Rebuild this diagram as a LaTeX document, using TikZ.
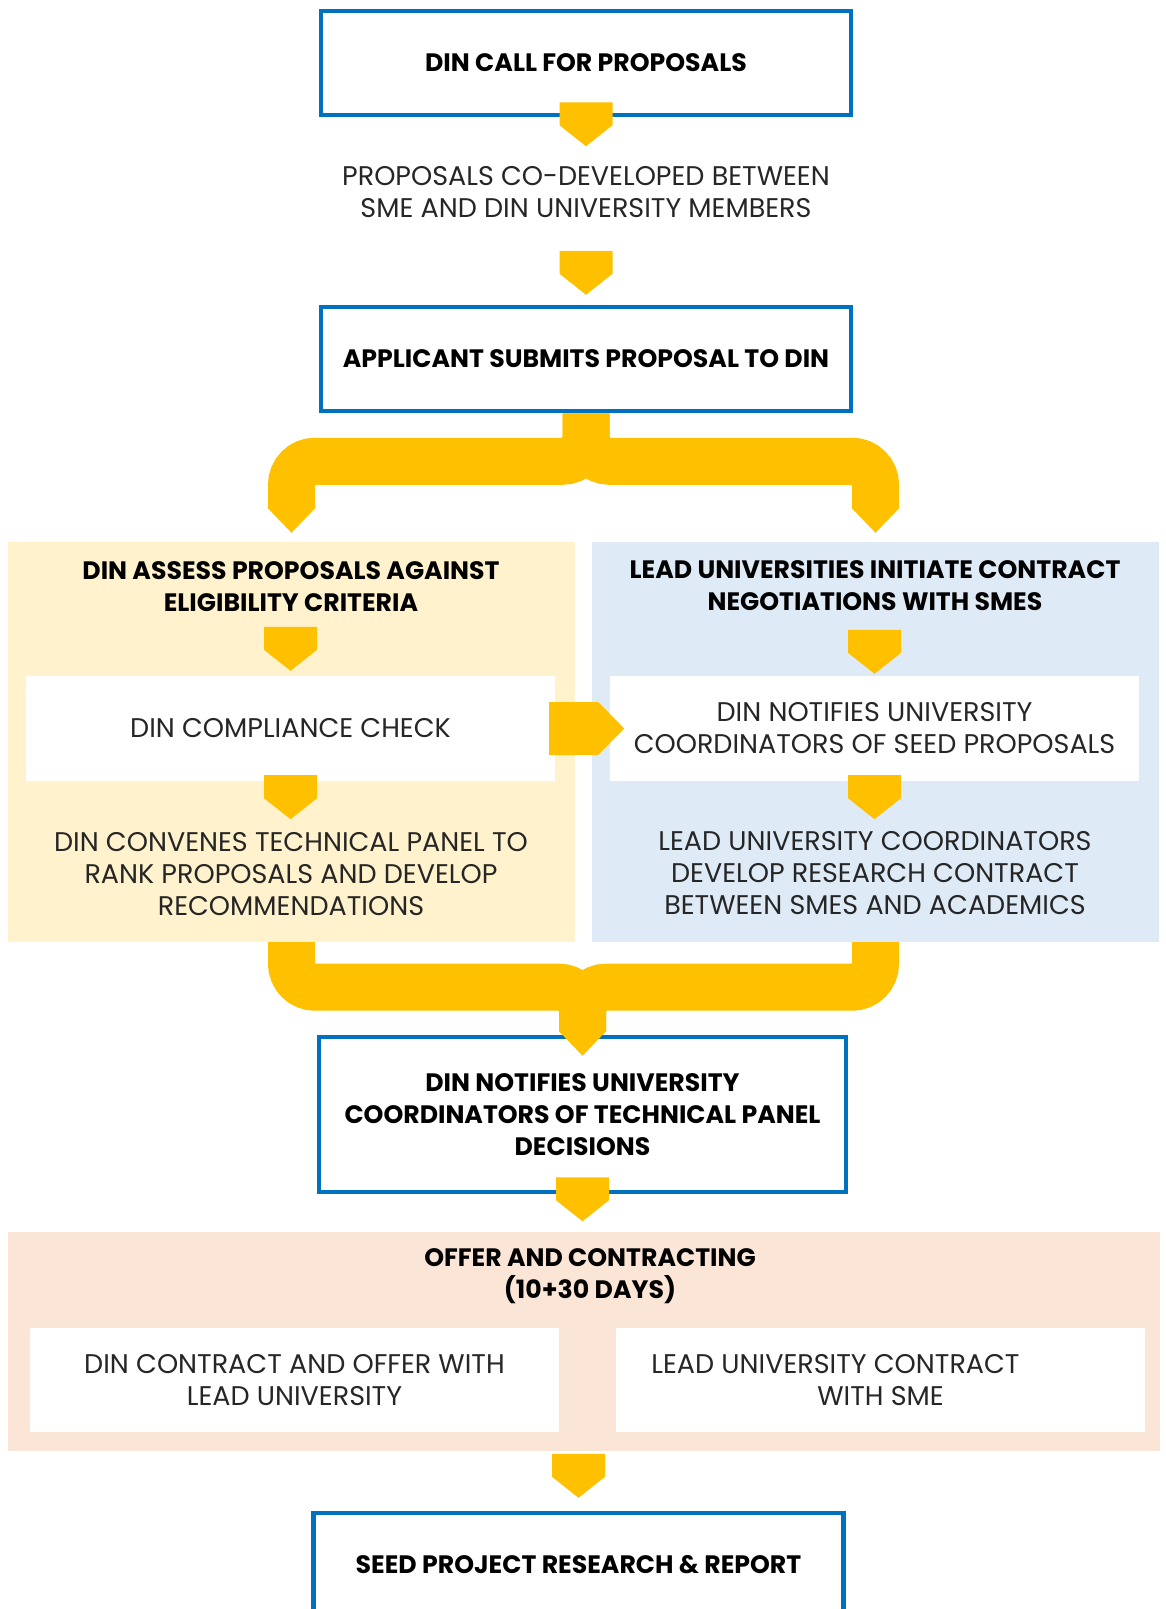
\documentclass[tikz,border=0pt]{standalone}
\usepackage{fontspec}
\setmainfont{Poppins}
\usetikzlibrary{calc}

\definecolor{dinblue}{HTML}{0070C0}
\definecolor{dingold}{HTML}{FFC000}
\definecolor{paleyellow}{HTML}{FFF2CC}
\definecolor{paleblue}{HTML}{DEEBF7}
\definecolor{palepeach}{HTML}{FBE5D6}

\newcommand{\headfont}{\fontsize{25.2}{32}\selectfont\bfseries}
\newcommand{\bodyfont}{\fontsize{27}{32}\selectfont\color{black!85}}

\begin{document}
\begin{tikzpicture}[x=1pt, y=-1pt,
    stepframe/.style={draw=dinblue, line width=4.5pt, fill=white, minimum width=530pt,
      minimum height=104pt, align=center, font=\headfont},
    panel/.style={minimum width=567pt, minimum height=400pt, inner sep=0pt},
    whitebox/.style={fill=white, minimum width=529pt, minimum height=105pt, inner sep=0pt,
      align=center, font=\bodyfont},
    headtext/.style={align=center, font=\headfont},
    bodytext/.style={align=center, font=\bodyfont},
    goldbar/.style={draw=dingold, line width=47pt, rounded corners=23.5pt},
    chevdown/.pic={\fill[dingold] (-26.5,0) -- (26.5,0) -- (26.5,23) -- (0,44) -- (-26.5,23) -- cycle;},
    chevright/.pic={\fill[dingold] (0,-26.5) -- (49,-26.5) -- (75,0) -- (49,26.5) -- (0,26.5) -- cycle;},
    legtip/.pic={\fill[dingold] (-23.5,-0.5) -- (23.5,-0.5) -- (0,24) -- cycle;}]

  % page frame
  \clip (0,0) rectangle (1166,1609);

  % coloured backgrounds
  \node[panel, fill=paleyellow] (assessbg) at (291.5,742) {};
  \node[panel, fill=paleblue] (leadbg) at (875.5,742) {};
  \node[fill=palepeach, minimum width=1152pt, minimum height=219pt, inner sep=0pt] (offerbg) at (584,1341.5) {};

  % main stages
  \node[stepframe] (call) at (586,63) {DIN CALL FOR PROPOSALS};
  \node[bodytext] (codev) at (586,192.5) {PROPOSALS CO-DEVELOPED BETWEEN\\SME AND DIN UNIVERSITY MEMBERS};
  \node[stepframe] (submit) at (586,359) {APPLICANT SUBMITS PROPOSAL TO DIN};

  % two parallel streams
  \node[headtext] (assess) at (291,586.5) {DIN ASSESS PROPOSALS AGAINST\\ELIGIBILITY CRITERIA};
  \node[headtext] (initiate) at (875,585.5) {LEAD UNIVERSITIES INITIATE CONTRACT\\NEGOTIATIONS WITH SMES};
  \node[whitebox] (compliance) at (290.5,728.5) {DIN COMPLIANCE CHECK};
  \node[whitebox] (notify) at (874.5,728.5) {DIN NOTIFIES UNIVERSITY\\COORDINATORS OF SEED PROPOSALS};
  \node[bodytext] (convene) at (291,874) {DIN CONVENES TECHNICAL PANEL TO\\RANK PROPOSALS AND DEVELOP\\RECOMMENDATIONS};
  \node[bodytext] (develop) at (875,873.5) {LEAD UNIVERSITY COORDINATORS\\DEVELOP RESEARCH CONTRACT\\BETWEEN SMES AND ACADEMICS};

  % split and merge bars
  \coordinate (topbar) at ($(submit.south)+(0,48)$);
  \coordinate (lowbar) at ($(assessbg.south)+(0,45)$);
  \draw[goldbar] (submit.south) -- (topbar) -- (topbar -| assessbg.north) -- ($(assessbg.north)+(0,-33)$);
  \draw[goldbar] (submit.south) -- (topbar) -- (topbar -| leadbg.north) -- ($(leadbg.north)+(0,-33)$);
  \pic at ($(assessbg.north)+(0,-33)$) {legtip};
  \pic at ($(leadbg.north)+(0,-33)$) {legtip};

  \node[stepframe, minimum width=527pt, minimum height=155pt] (decide) at (582.5,1114.5)
    {DIN NOTIFIES UNIVERSITY\\COORDINATORS OF TECHNICAL PANEL\\DECISIONS};
  \draw[goldbar] (assessbg.south) -- (assessbg.south |- lowbar) -- (lowbar -| decide.north) -- ($(decide.north)+(0,-3)$);
  \draw[goldbar] (leadbg.south) -- (leadbg.south |- lowbar) -- (lowbar -| decide.north) -- ($(decide.north)+(0,-3)$);
  \pic at ($(decide.north)+(0,-3)$) {legtip};

  % offer and contracting
  \node[headtext] (offer) at (590,1276) {OFFER AND CONTRACTING\\(10+30 DAYS)};
  \node[whitebox, minimum height=104pt] (dinoffer) at (294.5,1380) {DIN CONTRACT AND OFFER WITH\\LEAD UNIVERSITY};
  \node[whitebox, minimum height=104pt] (unioffer) at (880.5,1380) {LEAD UNIVERSITY CONTRACT\hspace*{90pt}\\WITH SME};
  \node[stepframe] (report) at (578.5,1565) {SEED PROJECT RESEARCH \& REPORT};

  % arrow heads between steps
  \pic at ($(call.south)+(0,-15)$) {chevdown};
  \pic at ($(submit.north)+(0,-54)$) {chevdown};
  \pic at ($(compliance.north)+(0,-49)$) {chevdown};
  \pic at ($(notify.north)+(0,-46)$) {chevdown};
  \pic at ($(compliance.south)+(0,-6)$) {chevdown};
  \pic at ($(notify.south)+(0,-6)$) {chevdown};
  \pic at ($(compliance.east)+(-6,0)$) {chevright};
  \pic at ($(decide.south)+(0,-17)$) {chevdown};
  \pic at ($(report.north)+(0,-57)$) {chevdown};
\end{tikzpicture}
\end{document}
